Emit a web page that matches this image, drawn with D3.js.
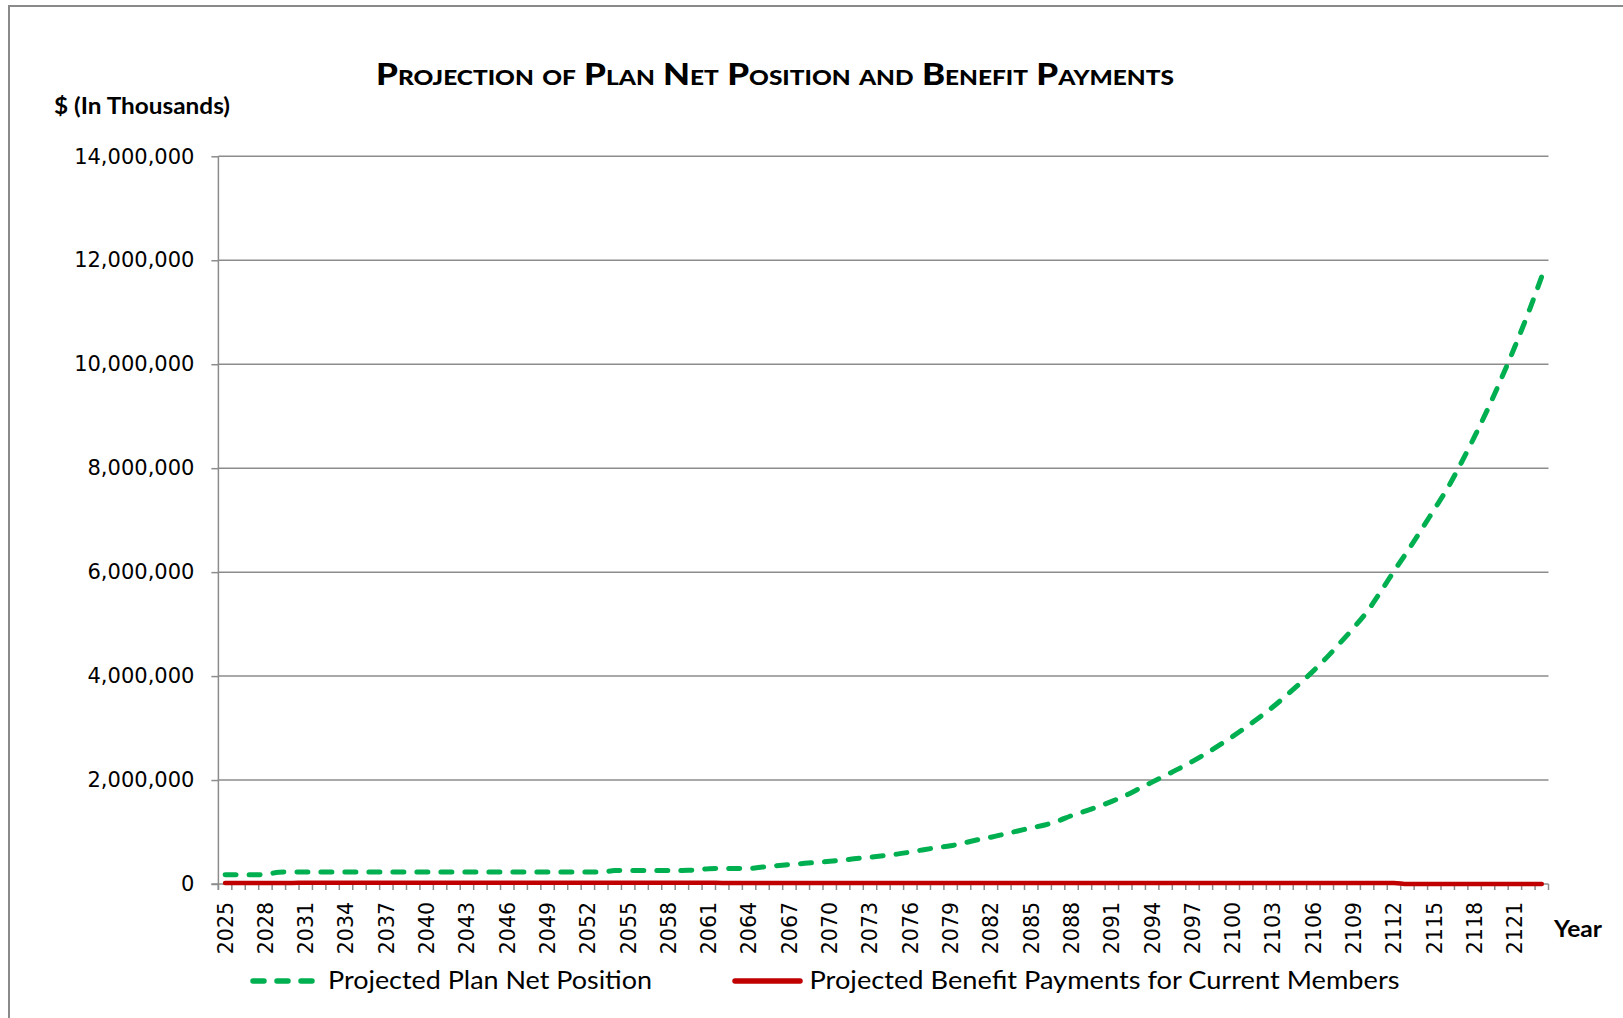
<!DOCTYPE html>
<html><head><meta charset="utf-8">
<script src="https://cdn.jsdelivr.net/npm/d3@7"></script>
<style>
html,body{margin:0;padding:0;background:#fff;overflow:hidden}
</style></head><body>
<svg id="chart" width="1623" height="1018"></svg>
<script>
// ---------- DATA ----------
const years = d3.range(2025, 2124); // 2025 ... 2123
const tickYears = [2025,2028,2031,2034,2037,2040,2043,2046,2049,2052,2055,2058,2061,2064,2067,2070,2073,2076,2079,2082,2085,2088,2091,2094,2097,2100,2103,2106,2109,2112,2115,2118,2121];
const yTicks = [0,2000000,4000000,6000000,8000000,10000000,12000000,14000000];
const netPosition = [
  180000,178000,178000,180000,
  228000,230000,231000,231000,231000,232000,232000,232000,232000,232000,232000,232000,232000,
  232000,232000,232000,232000,232000,232000,232000,232000,232000,232000,232000,232000,
  258000,262000,262000,262000,262000,262000,263000,
  295000,298000,298000,300000,
  325000,352000,375000,395000,415000,437000,460000,490000,515000,545000,
  575000,615000,660000,700000,735000,790000,850000,900000,960000,1020000,
  1080000,1135000,1215000,1315000,1400000,1490000,1590000,1700000,1830000,1960000,
  2090000,2220000,2360000,2510000,2670000,2840000,3020000,3210000,3410000,3630000,
  3860000,4100000,4360000,4640000,4930000,5240000,5620000,6020000,6400000,6800000,
  7210000,7620000,8100000,8610000,9150000,9730000,10340000,10990000,11690000
];
const benefitPayments = [
  19000,19500,20000,20500,21000,21500,22000,22500,23000,23500,
  24000,24000,24500,24500,25000,25000,25000,25000,25000,25000,
  25000,25000,24500,24500,24000,24000,24000,23500,23500,23000,
  23000,23000,22500,22500,22000,22000,22000,21500,21500,21000,
  21000,21000,21000,20500,20500,20500,20000,20000,20000,20000,
  20000,20000,20000,20000,20000,20000,20000,20000,20000,20000,
  20000,20000,20000,20000,20000,20000,20000,20000,20000,20000,
  20000,20000,20000,20000,20000,20000,20000,20000,20000,20000,
  20000,20000,20000,20000,20000,20000,20000,20000,
  0,0,0,0,0,0,0,0,0,0,0
];
const seriesNames = ["Projected Plan Net Position", "Projected Benefit Payments for Current Members"];
const titleText = "Projection of Plan Net Position and Benefit Payments";
const yAxisTitle = "$ (In Thousands)";
const xAxisTitle = "Year";

// ---------- LAYOUT ----------
const svg = d3.select("#chart");
const plotL = 218.4, plotR = 1548.5, plotT = 156.3, plotB = 884;
const gridColor = "#8c8c8c";
const labelFont = "'DejaVu Sans', Verdana, sans-serif";
const textFont = "Lato, 'Open Sans', sans-serif";

svg.append("rect").attr("width",1623).attr("height",1018).attr("fill","#fff");
svg.append("rect").attr("x",9).attr("y",6).attr("width",1700).attr("height",1100)
  .attr("fill","none").attr("stroke","#8a8a8a").attr("stroke-width",2);

const x = d3.scaleBand().domain(years).range([plotL, plotR]).padding(0);
const cx = d => x(d) + x.bandwidth()/2;
const y = d3.scaleLinear().domain([0, 14000000]).range([plotB, plotT]);

// gridlines
svg.append("g").selectAll("line").data(yTicks.filter(d => d > 0)).join("line")
  .attr("x1", plotL).attr("x2", plotR)
  .attr("y1", d => y(d)).attr("y2", d => y(d))
  .attr("stroke", gridColor).attr("stroke-width", 1.5);

// y axis
const yAxisG = svg.append("g").attr("transform", `translate(${plotL},0)`)
  .call(d3.axisLeft(y).tickValues(yTicks).tickFormat(d3.format(",")).tickSize(7).tickPadding(17));
yAxisG.select(".domain").remove();
yAxisG.selectAll(".tick line").attr("stroke", gridColor).attr("stroke-width", 1.5);
yAxisG.selectAll(".tick text").attr("font-family", labelFont).attr("font-size", "21px").attr("fill", "#000");
svg.append("line").attr("x1", plotL).attr("x2", plotL).attr("y1", plotT).attr("y2", plotB + 6)
  .attr("stroke", gridColor).attr("stroke-width", 1.5);

// x axis
svg.append("line").attr("x1", plotL - 7).attr("x2", plotR).attr("y1", plotB).attr("y2", plotB)
  .attr("stroke", gridColor).attr("stroke-width", 1.5);
const bounds = years.map(d => x(d)).concat([plotR]);
svg.append("g").selectAll("line").data(bounds).join("line")
  .attr("x1", d => d).attr("x2", d => d).attr("y1", plotB).attr("y2", plotB + 6)
  .attr("stroke", gridColor).attr("stroke-width", 1.5);
const xAxisG = svg.append("g").attr("transform", `translate(0,${plotB})`)
  .call(d3.axisBottom(x).tickValues(tickYears).tickSize(0));
xAxisG.select(".domain").remove();
xAxisG.selectAll(".tick text")
  .attr("transform", "rotate(-90)")
  .attr("x", -18).attr("y", 0).attr("dy", "0.36em")
  .style("text-anchor", "end")
  .attr("font-family", labelFont).attr("font-size", "20.5px").attr("fill", "#000");

// series
const line = d3.line().x((d, i) => cx(years[i])).y(d => y(d));
svg.append("path").datum(netPosition)
  .attr("d", line.curve(d3.curveMonotoneX))
  .attr("fill", "none").attr("stroke", "#00B050").attr("stroke-width", 5)
  .attr("stroke-dasharray", "11,13").attr("stroke-linecap", "round");
svg.append("path").datum(benefitPayments)
  .attr("d", d3.line().x((d, i) => cx(years[i])).y(d => y(d)).curve(d3.curveMonotoneX))
  .attr("fill", "none").attr("stroke", "#C00000").attr("stroke-width", 4.5)
  .attr("stroke-linecap", "round");

// titles
svg.append("text").attr("x", 376).attr("y", 85)
  .attr("font-family", textFont).attr("font-weight", "900").attr("font-size", "30px")
  .style("font-variant", "small-caps").attr("fill", "#000")
  .attr("textLength", 798).attr("lengthAdjust", "spacingAndGlyphs")
  .text(titleText);
svg.append("text").attr("x", 54).attr("y", 114)
  .attr("font-family", textFont).attr("font-weight", "bold").attr("font-size", "22px")
  .attr("fill", "#000").attr("textLength", 176).attr("lengthAdjust", "spacingAndGlyphs")
  .text(yAxisTitle);
svg.append("text").attr("x", 1554).attr("y", 937)
  .attr("font-family", textFont).attr("font-weight", "bold").attr("font-size", "23px")
  .attr("fill", "#000").attr("textLength", 48).attr("lengthAdjust", "spacingAndGlyphs")
  .text(xAxisTitle);

// legend
const legY = 981;
svg.append("line").attr("x1", 253).attr("x2", 312).attr("y1", legY).attr("y2", legY)
  .attr("stroke", "#00B050").attr("stroke-width", 5.5)
  .attr("stroke-dasharray", "11,13").attr("stroke-linecap", "round");
svg.append("text").attr("x", 328).attr("y", 989)
  .attr("font-family", textFont).attr("font-size", "25px").attr("fill", "#000")
  .attr("textLength", 324).attr("lengthAdjust", "spacingAndGlyphs")
  .text(seriesNames[0]);
svg.append("line").attr("x1", 735).attr("x2", 800).attr("y1", legY).attr("y2", legY)
  .attr("stroke", "#C00000").attr("stroke-width", 5.5).attr("stroke-linecap", "round");
svg.append("text").attr("x", 809.5).attr("y", 989)
  .attr("font-family", textFont).attr("font-size", "25px").attr("fill", "#000")
  .attr("textLength", 590).attr("lengthAdjust", "spacingAndGlyphs")
  .text(seriesNames[1]);
</script>
</body></html>
